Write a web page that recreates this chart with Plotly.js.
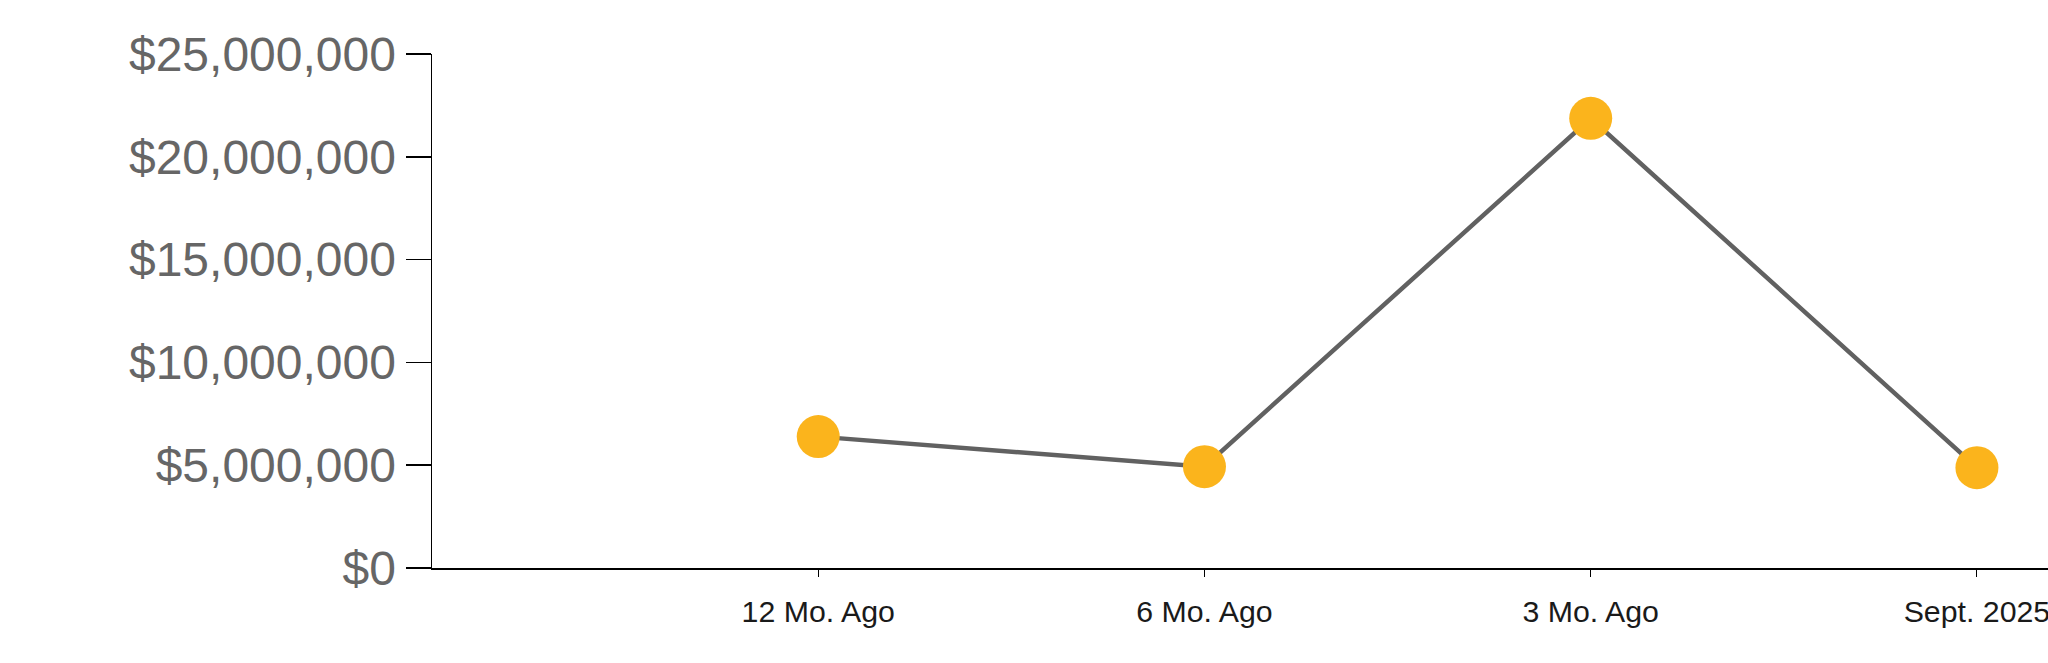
<!DOCTYPE html>
<html>
<head>
<meta charset="utf-8">
<script src="https://cdn.plot.ly/plotly-3.0.1.min.js"></script>
<style>html,body{margin:0;padding:0;background:#fff;}#chart{width:2048px;height:663px;}</style>
</head>
<body>
<div id="chart"></div>
<script>
const categories = ["12 Mo. Ago", "6 Mo. Ago", "3 Mo. Ago", "Sept. 2025"];
const values = [6390000, 4930000, 21870000, 4880000];
const yTickValues = [0, 5000000, 10000000, 15000000, 20000000, 25000000];
const yTickLabels = ["$0", "$5,000,000", "$10,000,000", "$15,000,000", "$20,000,000", "$25,000,000"];

const positions = categories.map((c, i) => i);

const trace = {
  x: positions,
  y: values,
  type: "scatter",
  mode: "lines+markers",
  line: {color: "#616161", width: 4.5},
  marker: {color: "#FBB41C", size: 43, line: {width: 0}},
  hoverinfo: "skip",
  cliponaxis: false
};

const layout = {
  width: 2048,
  height: 663,
  margin: {l: 432, r: 0, t: 54, b: 95},
  paper_bgcolor: "#ffffff",
  plot_bgcolor: "#ffffff",
  showlegend: false,
  font: {family: "Liberation Sans, Arial, sans-serif"},
  xaxis: {
    range: [-1, 3.184],
    tickmode: "array",
    tickvals: positions,
    ticktext: categories,
    showgrid: false,
    zeroline: false,
    showline: true,
    linecolor: "#000000",
    linewidth: 1.5,
    ticks: "outside",
    ticklen: 7,
    tickwidth: 1,
    tickcolor: "#000000",
    ticklabeloverflow: "allow",
    ticklabelstandoff: 9,
    tickfont: {size: 30.3, color: "#1a1a1a", family: "Liberation Sans, Arial, sans-serif"},
    fixedrange: true
  },
  yaxis: {
    range: [0, 25000000],
    tickmode: "array",
    tickvals: yTickValues,
    ticktext: yTickLabels,
    showgrid: false,
    zeroline: false,
    showline: true,
    linecolor: "#000000",
    linewidth: 1.5,
    ticks: "outside",
    ticklen: 25,
    tickwidth: 1.5,
    tickcolor: "#000000",
    tickfont: {size: 48, color: "#666666", family: "Liberation Sans, Arial, sans-serif"},
    fixedrange: true
  }
};

Plotly.newPlot("chart", [trace], layout, {staticPlot: true, displayModeBar: false});
</script>
</body>
</html>
